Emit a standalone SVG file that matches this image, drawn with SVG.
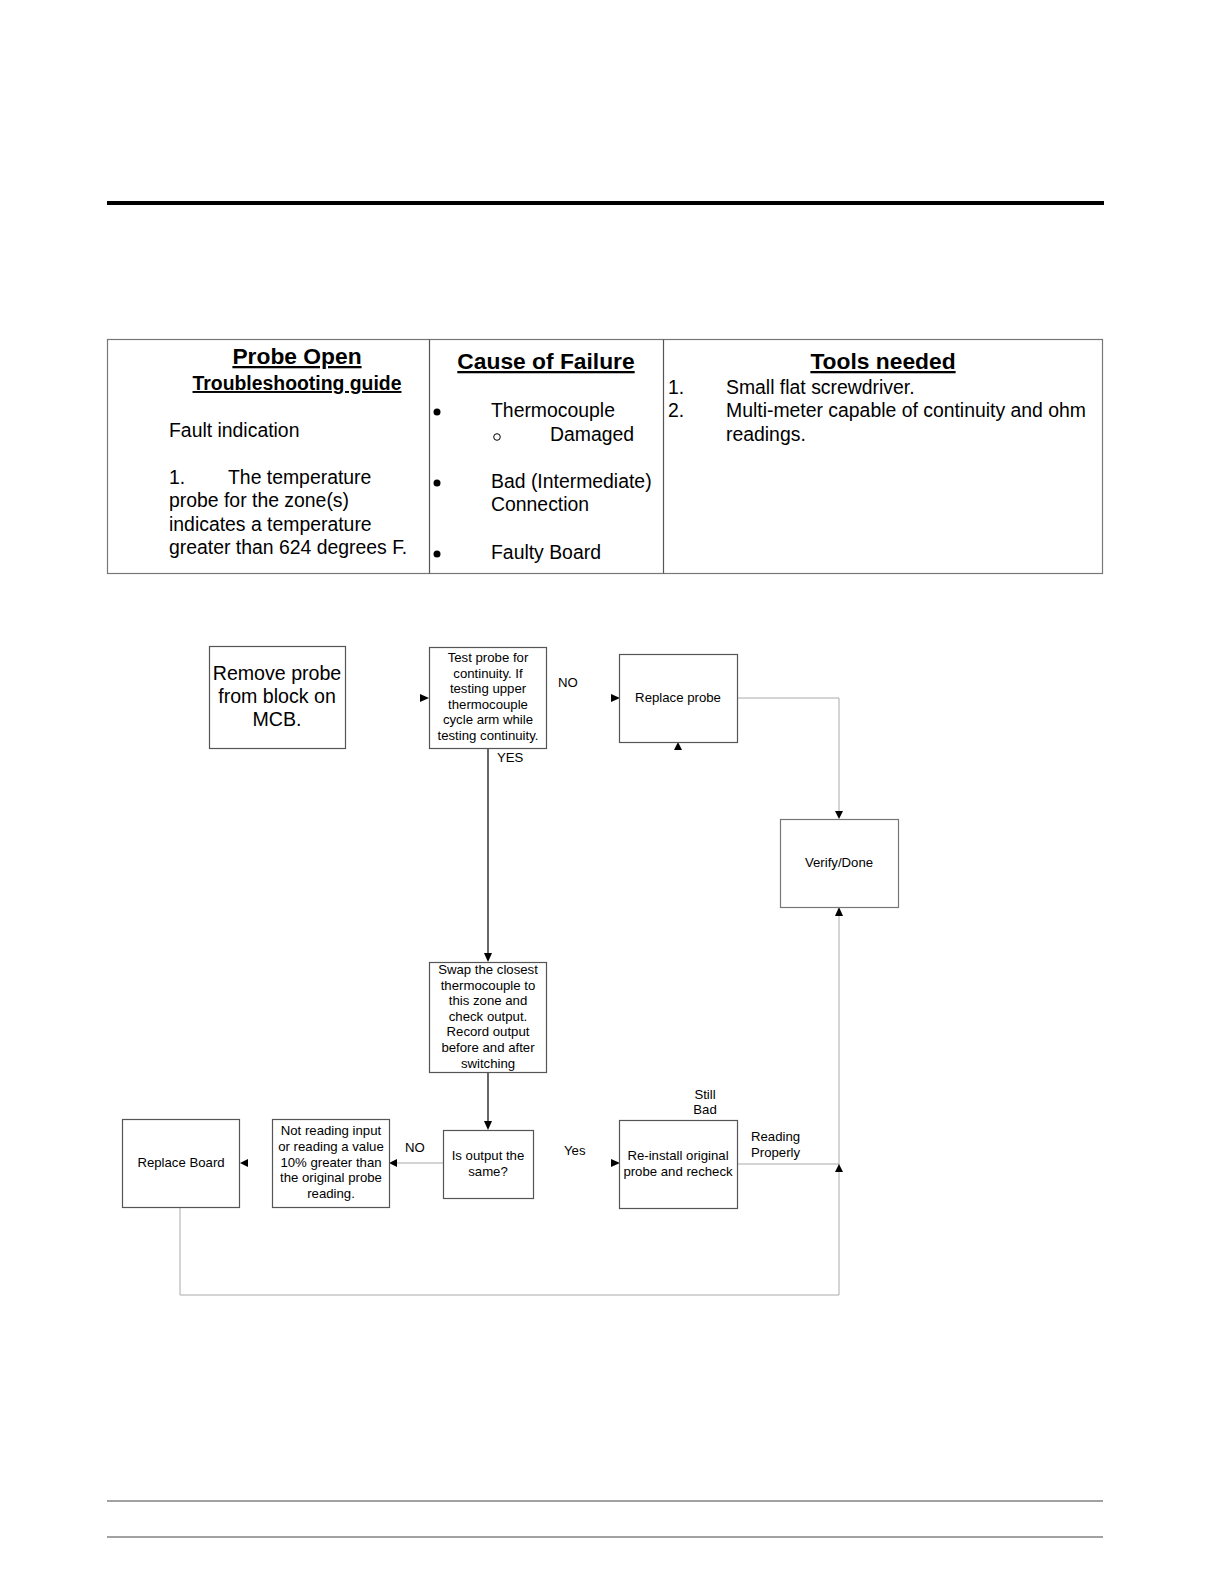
<svg xmlns="http://www.w3.org/2000/svg" width="1224" height="1584" viewBox="0 0 1224 1584">
<style>
text{font-family:"Liberation Sans",Arial,sans-serif;fill:#000}
.h{font-weight:bold;text-decoration:underline;text-anchor:middle}
.t{font-size:19.4px}
.s{font-size:13.2px;text-anchor:middle}
.m{font-size:19.6px;text-anchor:middle}
.l{font-size:13.2px}
.box{fill:#fff;stroke:#555;stroke-width:1.2}
.gl{fill:none;stroke:#aaa;stroke-width:1}
.bl{fill:none;stroke:#000;stroke-width:1.2}
.ah{fill:#000}
</style>
<rect width="1224" height="1584" fill="#fff"/>
<rect x="107" y="201" width="997" height="4" fill="#000"/>
<line x1="107" y1="1501" x2="1103" y2="1501" stroke="#444" stroke-width="1"/>
<line x1="107" y1="1537" x2="1103" y2="1537" stroke="#444" stroke-width="1"/>

<g id="table">
<rect x="107.5" y="339.5" width="995" height="234" fill="none" stroke="#777" stroke-width="1.2"/>
<line x1="429.5" y1="339.5" x2="429.5" y2="573.5" stroke="#555" stroke-width="1.2"/>
<line x1="663.5" y1="339.5" x2="663.5" y2="573.5" stroke="#555" stroke-width="1.2"/>
<text class="h" x="297" y="364" font-size="22.8">Probe Open</text>
<text class="h" x="297" y="390" font-size="19.4">Troubleshooting guide</text>
<text class="t" x="169" y="437">Fault indication</text>
<text class="t" x="169" y="484">1.</text>
<text class="t" x="228" y="484">The temperature</text>
<text class="t" x="169" y="507">probe for the zone(s)</text>
<text class="t" x="169" y="531">indicates a temperature</text>
<text class="t" x="169" y="554">greater than 624 degrees F.</text>

<text class="h" x="546" y="369" font-size="22.8">Cause of Failure</text>
<circle cx="437" cy="412" r="3.5"/>
<text class="t" x="491" y="417">Thermocouple</text>
<circle cx="497" cy="437" r="3.3" fill="none" stroke="#000" stroke-width="1"/>
<text class="t" x="550" y="441">Damaged</text>
<circle cx="437" cy="483" r="3.5"/>
<text class="t" x="491" y="488">Bad (Intermediate)</text>
<text class="t" x="491" y="511">Connection</text>
<circle cx="437" cy="554" r="3.5"/>
<text class="t" x="491" y="559">Faulty Board</text>

<text class="h" x="883" y="369" font-size="22.8">Tools needed</text>
<text class="t" x="668" y="394">1.</text>
<text class="t" x="726" y="394">Small flat screwdriver.</text>
<text class="t" x="668" y="417">2.</text>
<text class="t" x="726" y="417">Multi-meter capable of continuity and ohm</text>
<text class="t" x="726" y="441">readings.</text>
</g>

<g id="connectors">
<polyline class="gl" points="737,698 839,698 839,811"/>
<polyline class="gl" points="180,1207 180,1295 839,1295 839,915"/>
<line class="gl" x1="737" y1="1164" x2="839" y2="1164"/>
<line class="gl" x1="443" y1="1163" x2="397" y2="1163"/>
<line class="bl" x1="488" y1="748" x2="488" y2="954"/>
<line class="bl" x1="488" y1="1072" x2="488" y2="1122"/>
<polygon class="ah" points="420,694 429,698 420,702"/>
<polygon class="ah" points="611,694 620,698 611,702"/>
<polygon class="ah" points="674,750 678,742 682,750"/>
<polygon class="ah" points="835,811 839,819 843,811"/>
<polygon class="ah" points="835,916 839,907 843,916"/>
<polygon class="ah" points="484,953 488,962 492,953"/>
<polygon class="ah" points="484,1121 488,1130 492,1121"/>
<polygon class="ah" points="397,1159 389,1163 397,1167"/>
<polygon class="ah" points="248,1159 240,1163 248,1167"/>
<polygon class="ah" points="611,1159 620,1163 611,1167"/>
<polygon class="ah" points="835,1172 839,1164 843,1172"/>
<text class="l" x="558" y="687">NO</text>
<text class="l" x="497" y="762">YES</text>
<text class="l" x="405" y="1152">NO</text>
<text class="l" x="564" y="1155">Yes</text>
<text class="s" x="705" y="1099">Still</text>
<text class="s" x="705" y="1114">Bad</text>
<text class="l" x="751" y="1141">Reading</text>
<text class="l" x="751" y="1157">Properly</text>
</g>

<g id="remove-probe">
<rect class="box" x="209.5" y="646.5" width="136" height="102"/>
<text class="m" x="277" y="680">Remove probe</text>
<text class="m" x="277" y="703">from block on</text>
<text class="m" x="277" y="726">MCB.</text>
</g>
<g id="test-probe">
<rect class="box" x="429.5" y="647.5" width="117" height="101"/>
<text class="s" x="488" y="662">Test probe for</text>
<text class="s" x="488" y="678">continuity. If</text>
<text class="s" x="488" y="693">testing upper</text>
<text class="s" x="488" y="709">thermocouple</text>
<text class="s" x="488" y="724">cycle arm while</text>
<text class="s" x="488" y="740">testing continuity.</text>
</g>
<g id="replace-probe">
<rect class="box" x="619.5" y="654.5" width="118" height="88"/>
<text class="s" x="678" y="702">Replace probe</text>
</g>
<g id="verify-done">
<rect class="box" x="780.5" y="819.5" width="118" height="88" style="stroke:#777"/>
<text class="s" x="839" y="867">Verify/Done</text>
</g>
<g id="swap">
<rect class="box" x="429.5" y="962.5" width="117" height="110"/>
<text class="s" x="488" y="974">Swap the closest</text>
<text class="s" x="488" y="990">thermocouple to</text>
<text class="s" x="488" y="1005">this zone and</text>
<text class="s" x="488" y="1021">check output.</text>
<text class="s" x="488" y="1036">Record output</text>
<text class="s" x="488" y="1052">before and after</text>
<text class="s" x="488" y="1068">switching</text>
</g>
<g id="is-output-same">
<rect class="box" x="443.5" y="1130.5" width="90" height="68"/>
<text class="s" x="488" y="1160">Is output the</text>
<text class="s" x="488" y="1176">same?</text>
</g>
<g id="not-reading">
<rect class="box" x="272.5" y="1119.5" width="117" height="88"/>
<text class="s" x="331" y="1135">Not reading input</text>
<text class="s" x="331" y="1151">or reading a value</text>
<text class="s" x="331" y="1167">10% greater than</text>
<text class="s" x="331" y="1182">the original probe</text>
<text class="s" x="331" y="1198">reading.</text>
</g>
<g id="replace-board">
<rect class="box" x="122.5" y="1119.5" width="117" height="88"/>
<text class="s" x="181" y="1167">Replace Board</text>
</g>
<g id="reinstall">
<rect class="box" x="619.5" y="1120.5" width="118" height="88"/>
<text class="s" x="678" y="1160">Re-install original</text>
<text class="s" x="678" y="1176">probe and recheck</text>
</g>
</svg>
